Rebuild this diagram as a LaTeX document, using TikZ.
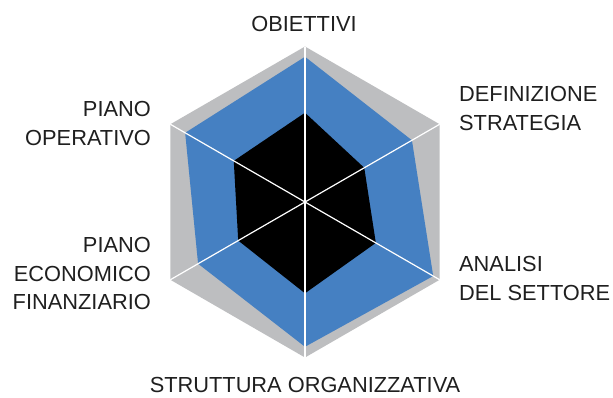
\documentclass[tikz,border=0pt]{standalone}
\usepackage{fontspec}
\setmainfont{Liberation Sans}
\usetikzlibrary{calc}
\definecolor{hexgray}{HTML}{BDBEC0}
\definecolor{hexblue}{HTML}{4580C2}
\begin{document}
\begin{tikzpicture}[x=1bp,y=-1bp,
  lbl/.style={inner sep=0pt, font=\fontsize{21.8bp}{28.3bp}\selectfont, text=black!88},
  spoke/.style={draw=white, line width=1.2bp}]
\useasboundingbox (0,0) rectangle (613,397);
\coordinate (c) at (305,202);
\def\R{155.5}
% axis vertices (y points down, so angles are negated)
\coordinate (a1) at ($(c)+(-90:\R)$);
\coordinate (a2) at ($(c)+(-30:\R)$);
\coordinate (a3) at ($(c)+(30:\R)$);
\coordinate (a4) at ($(c)+(90:\R)$);
\coordinate (a5) at ($(c)+(150:\R)$);
\coordinate (a6) at ($(c)+(210:\R)$);
% gray hexagon
\fill[hexgray] (a1) -- (a2) -- (a3) -- (a4) -- (a5) -- (a6) -- cycle;
% blue polygon
\fill[hexblue] ($(c)!0.934!(a1)$) -- ($(c)!0.794!(a2)$) -- ($(c)!0.952!(a3)$) -- ($(c)!0.931!(a4)$) -- ($(c)!0.794!(a5)$) -- ($(c)!0.89!(a6)$) -- cycle;
% black polygon
\fill[black] ($(c)!0.574!(a1)$) -- ($(c)!0.44!(a2)$) -- ($(c)!0.526!(a3)$) -- ($(c)!0.587!(a4)$) -- ($(c)!0.496!(a5)$) -- ($(c)!0.529!(a6)$) -- cycle;
% spokes
\foreach \i in {1,...,6} \draw[spoke] (c) -- (a\i);
% labels (base anchor of a multi-line node = baseline of its last line)
\node[lbl, anchor=base] (obi) at (304,31) {OBIETTIVI};
\node[lbl, anchor=base west, align=left] (def) at (459,130) {DEFINIZIONE\\STRATEGIA};
\node[lbl, anchor=base west, align=left] (ana) at (459,300) {ANALISI\\DEL SETTORE};
\node[lbl, anchor=base, text depth=0pt] (str) at (305,392.7) {STRUTTURA ORGANIZZATIVA};
\node[lbl, anchor=base east, align=right] (pec) at (151,309.3) {PIANO\\ECONOMICO\\FINANZIARIO};
\node[lbl, anchor=base east, align=right] (pop) at (151,145) {PIANO\\OPERATIVO};
\end{tikzpicture}
\end{document}
